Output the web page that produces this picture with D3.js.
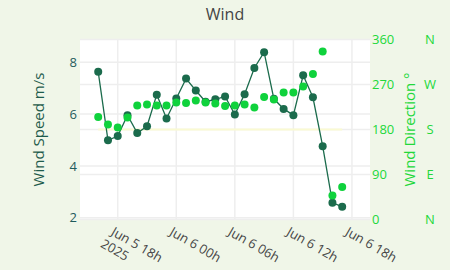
<!DOCTYPE html>
<html><head><meta charset="utf-8">
<script src="https://cdn.jsdelivr.net/npm/d3@7"></script>
<style>body{margin:0;background:#f0f6e8;}svg{display:block;font-family:"Open Sans",sans-serif;}</style>
</head><body><svg id="c" width="450" height="270"></svg>
<script>
const startTime = "2025-06-05T16:00:00";
const hoursOffset = [0,1,2,3,4,5,6,7,8,9,10,11,12,13,14,15,16,17,18,19,20,21,22,23,24,25];
const windSpeed = [7.63,4.99,5.15,5.96,5.27,5.53,6.75,5.83,6.60,7.37,6.91,6.48,6.57,6.68,5.98,6.77,7.78,8.39,6.59,6.20,5.96,7.50,6.65,4.76,2.58,2.42];
const windDir = [205,190,184,204,228,230,228,228,234,233,238,234,232,227,228,230,224,245,240,254,254,266,291,336,48,65];
const leftTicks = [2,4,6,8];
const rightTicks = [0,90,180,270,360];
const compass = ["N","E","S","W","N"];
const xTicks = ["2025-06-05T18:00:00","2025-06-06T00:00:00","2025-06-06T06:00:00","2025-06-06T12:00:00","2025-06-06T18:00:00"];

const t0 = new Date(startTime);
const times = hoursOffset.map(h => new Date(t0.getTime() + h*3600e3));
const svg = d3.select("#c");
const L=80,R=370,T=39.5,B=219.5;
const x = d3.scaleTime().domain([new Date("2025-06-05T14:08:00"), new Date("2025-06-06T19:51:00")]).range([L,R]);
const y = d3.scaleLinear().domain([1.93,8.88]).range([B,T]);
const y2 = d3.scaleLinear().domain([0,360]).range([B,T]);

svg.append("rect").attr("x",L).attr("y",T).attr("width",R-L).attr("height",B-T).attr("fill","#fff");
const g = svg.append("g");
xTicks.forEach(s=>{const xx=x(new Date(s)); if(xx<=R) g.append("line").attr("x1",xx).attr("x2",xx).attr("y1",T).attr("y2",B).attr("stroke","#eeeeee").attr("stroke-width",1.5);});
leftTicks.forEach(v=>g.append("line").attr("x1",L).attr("x2",R).attr("y1",y(v)).attr("y2",y(v)).attr("stroke","#eeeeee").attr("stroke-width",1.5));
rightTicks.forEach(v=>g.append("line").attr("x1",L).attr("x2",R).attr("y1",y2(v)).attr("y2",y2(v)).attr("stroke","#eeeeee").attr("stroke-width",1.5));
g.append("line").attr("x1",x(times[0])).attr("x2",x(times[times.length-1])).attr("y1",y2(180)).attr("y2",y2(180)).attr("stroke","#fafad2").attr("stroke-width",2);

const dark="#1b6b4c", light="#0fd23c";
g.append("path").datum(windSpeed).attr("fill","none").attr("stroke",dark).attr("stroke-width",1.3)
 .attr("d",d3.line().x((d,i)=>x(times[i])).y(d=>y(d)));
g.selectAll(".sp").data(windSpeed).join("circle").attr("cx",(d,i)=>x(times[i])).attr("cy",d=>y(d)).attr("r",4).attr("fill",dark);
g.selectAll(".dr").data(windDir).join("circle").attr("cx",(d,i)=>x(times[i])).attr("cy",d=>y2(d)).attr("r",4).attr("fill",light);

const la = svg.append("g").attr("transform",`translate(${L},0)`).call(d3.axisLeft(y).tickValues(leftTicks).tickFormat(d3.format("d")).tickSize(0).tickPadding(3));
la.select(".domain").remove();
la.selectAll("text").attr("fill","#1f5c5c").attr("font-size",13).attr("font-family","Open Sans");
const ra = svg.append("g").attr("transform",`translate(${R},0)`).call(d3.axisRight(y2).tickValues(rightTicks).tickFormat(d3.format("d")).tickSize(0).tickPadding(2));
ra.select(".domain").remove();
ra.selectAll("text").attr("fill","#22d83a").attr("font-size",13).attr("font-family","Open Sans");
rightTicks.forEach((v,i)=>svg.append("text").attr("x",430).attr("y",y2(v)).attr("dy","0.35em").attr("text-anchor","middle")
  .attr("fill","#22d83a").attr("font-size",13).text(compass[i]));

const fmt = d3.timeFormat("%b %-d %Hh");
const xa = svg.append("g");
xTicks.forEach((s,i)=>{
  const d=new Date(s), xx=x(d);
  const tg = xa.append("g").attr("transform",`translate(${xx-3},${B+7}) rotate(30)`);
  const tx = tg.append("text").attr("fill","#444").attr("font-size",13).attr("text-anchor","start");
  tx.append("tspan").attr("x",0).attr("dy","0.7em").text(fmt(d));
  if(i===0) tx.append("tspan").attr("x",-3).attr("dy","1.2em").text("2025");
});

svg.append("text").attr("x",225).attr("y",20).attr("text-anchor","middle").attr("fill","#444").attr("font-size",16).text("Wind");
svg.append("text").attr("transform",`translate(44,${(T+B)/2}) rotate(-90)`).attr("text-anchor","middle").attr("fill","#1f5c4c").attr("font-size",15).text("Wind Speed m/s");
svg.append("text").attr("transform",`translate(415,${(T+B)/2}) rotate(-90)`).attr("text-anchor","middle").attr("fill","#22d83a").attr("font-size",15).text("Wind Direction °");
</script></body></html>
